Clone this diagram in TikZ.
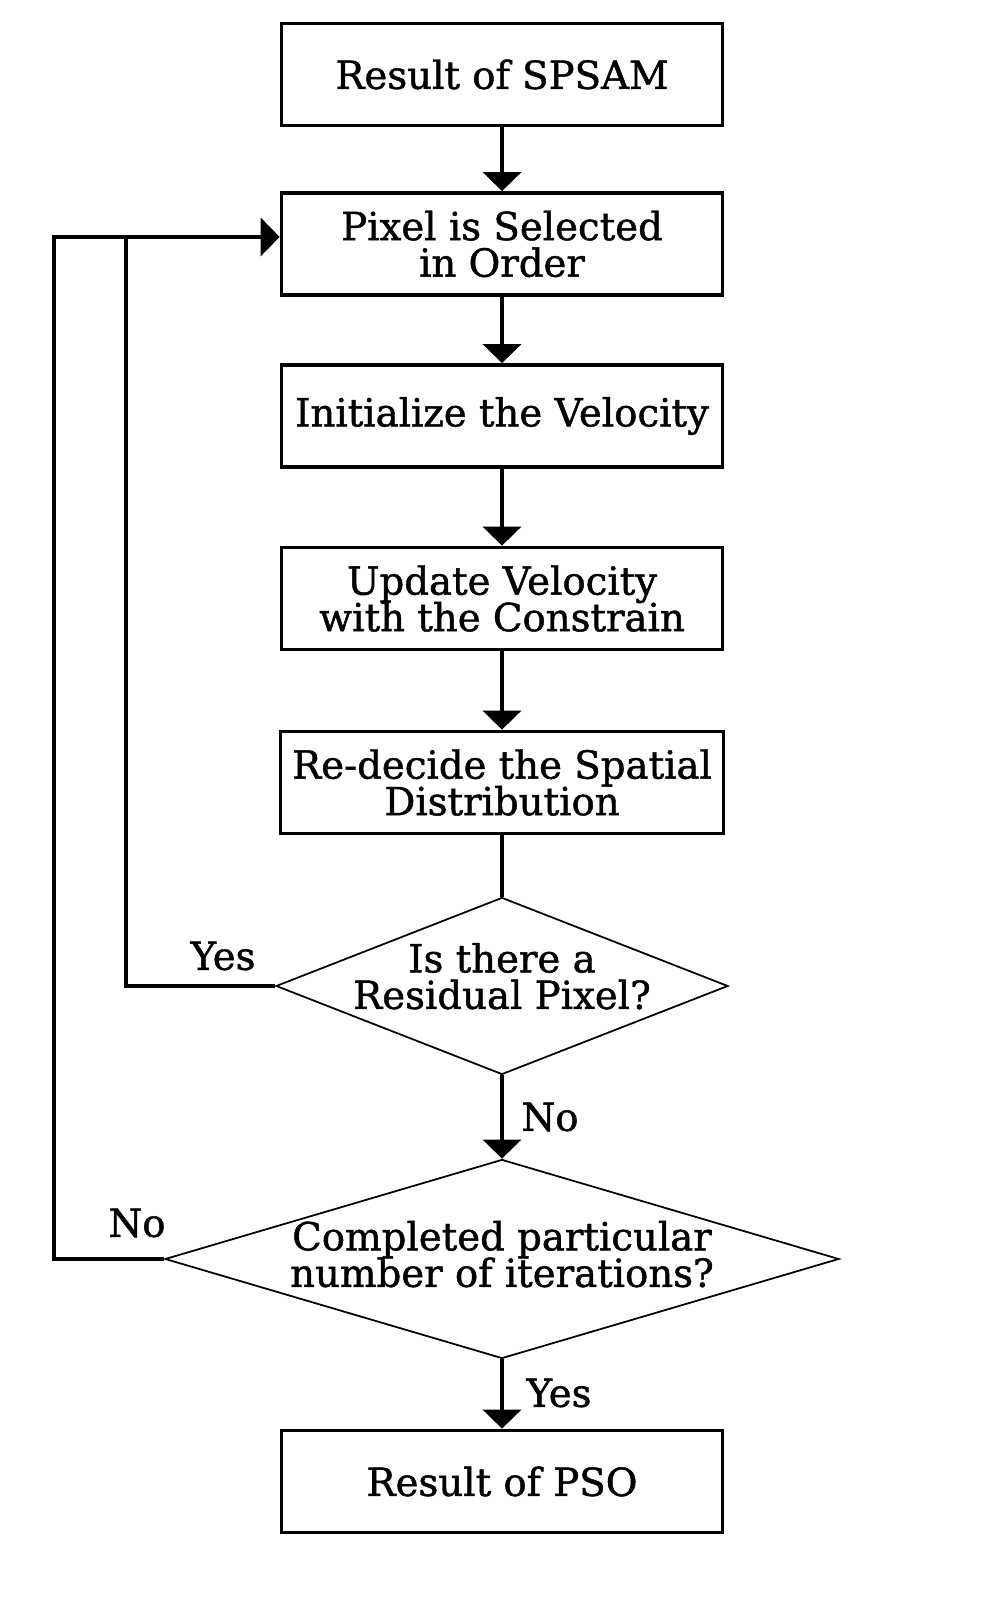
\documentclass[tikz,border=0pt]{standalone}
\usepackage{fontspec}
\setmainfont{DejaVu Serif}[FakeBold=1.2]
\usetikzlibrary{shapes.geometric,arrows.meta}

\newcommand{\chartfont}{\fontsize{11}{10.4}\selectfont\lineskiplimit=-20pt}

\begin{document}
\begin{tikzpicture}[
        stepbox/.style={shape=rectangle,draw=black,line width=1.05pt,minimum width=4.41cm,minimum height=1.02cm,align=center,font=\chartfont},
        decision/.style={shape=diamond,draw=black,line width=0.5pt,inner sep=-1pt,align=center,text height=15.9pt,text depth=2.85pt,font=\chartfont},
        answer/.style={font=\chartfont},
        link/.style={line width=1.05pt},
        flow/.style={line width=1.05pt,-{Triangle[width=3.8mm,length=1.9mm]}}
    ]
    \useasboundingbox (0,0) rectangle (10,16);
    \node (spsam) [stepbox] at (5.02,15.255) {Result of SPSAM};
    \node (pixel) [stepbox] at (5.02,13.56) {Pixel is Selected\\ in Order};
    \node (initvel) [stepbox] at (5.02,11.84) {Initialize the Velocity};
    \node (updvel) [stepbox] at (5.02,10.015) {Update Velocity\\with the Constrain};
    \node (redecide) [stepbox] at (5.02,8.175) {Re-decide the Spatial\\Distribution};
    \node (resid) [decision,minimum width=4.52cm,minimum height=1.77cm,aspect=2.55] at (5.02,6.14) {Is there a\\Residual Pixel?};
    \node (iter) [decision,minimum width=6.74cm,minimum height=1.99cm,aspect=3.39,text height=17.3pt,text depth=1.45pt] at (5.02,3.41) {Completed particular\\number of iterations?};
    \node (pso) [stepbox] at (5.02,1.185) {Result of PSO};
    \coordinate (yesturn) at (1.26,13.63);
    \coordinate (noturn) at (0.54,13.63);
    \draw [flow] (spsam) -- (pixel);
    \draw [flow] (pixel) -- (initvel);
    \draw [flow] (initvel) -- (updvel);
    \draw [flow] (updvel) -- (redecide);
    \draw [link] (redecide) -- (resid);
    \draw [flow] (resid) -- (iter);
    \draw [flow] (iter) -- (pso);
    \draw [link] (resid.west) -| (yesturn);
    \draw [flow] (iter.west) -| (noturn) -- ([yshift=0.07cm]pixel.west);
    \node (yesloop) [answer] at (2.23,6.44) {Yes};
    \node (nodown) [answer] at (5.5,4.83) {No};
    \node (noloop) [answer] at (1.37,3.77) {No};
    \node (yesdown) [answer] at (5.59,2.07) {Yes};
\end{tikzpicture}
\end{document}
